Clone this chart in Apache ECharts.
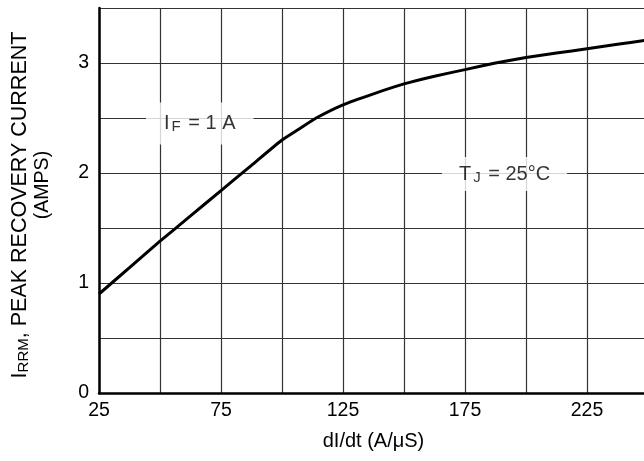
<!DOCTYPE html>
<html>
<head>
<meta charset="utf-8">
<script src="https://cdn.jsdelivr.net/npm/echarts@6/dist/echarts.min.js"></script>
<style>
  html, body { margin: 0; padding: 0; background: #fff; }
  #chart { width: 644px; height: 461px; }
</style>
</head>
<body>
<div id="chart"></div>
<script>
// dI/dt (A/uS) 与 IRRM (A) 曲线数据
const dIdt = [25, 37.5, 50, 62.5, 75, 87.5, 100, 107, 114, 125, 137.5, 150, 162.5, 175, 187.5, 200, 212.5, 225, 237.5, 250];
const irrm = [0.90, 1.14, 1.38, 1.61, 1.84, 2.07, 2.30, 2.40, 2.50, 2.62, 2.72, 2.81, 2.88, 2.94, 3.00, 3.05, 3.09, 3.13, 3.17, 3.21];

// 坐标轴刻度标签
const xTickLabels = [25, 75, 125, 175, 225];
const yTickLabels = [0, 1, 2, 3];

// 图中注释（数据坐标）
const noteX = [66.3, 191.2];
const noteY = [2.45, 1.99];
const noteText = ['I{s|F} = 1 A', 'T{s|J} = 25°C'];

const FONT = '"Liberation Sans", Arial, Helvetica, sans-serif';

const chart = echarts.init(document.getElementById('chart'));

const gridLine = { show: true, lineStyle: { color: '#333', width: 1.2, type: 'solid' } };
const axisLineStyle = { show: true, onZero: false, lineStyle: { color: '#000', width: 2.5 } };

const notePad = [[10, 18], [6, 17]];

chart.setOption({
  animation: false,
  backgroundColor: '#fff',
  grid: { left: 99, top: 8, width: 549, height: 385, outerBoundsMode: 'none' },
  xAxis: {
    type: 'value',
    min: 25,
    max: 250,
    interval: 25,
    axisLine: axisLineStyle,
    axisTick: { show: false },
    splitLine: gridLine,
    axisLabel: {
      color: '#000',
      fontFamily: FONT,
      fontSize: 19.5,
      margin: 8,
      formatter: v => (xTickLabels.includes(v) ? String(v) : '')
    },
    name: 'dI/dt (A/μS)',
    nameLocation: 'middle',
    nameGap: 38,
    nameTextStyle: { color: '#000', fontFamily: FONT, fontSize: 20 }
  },
  yAxis: {
    type: 'value',
    min: 0,
    max: 3.5,
    interval: 0.5,
    axisLine: axisLineStyle,
    axisTick: { show: false },
    splitLine: gridLine,
    axisLabel: {
      color: '#000',
      fontFamily: FONT,
      fontSize: 19.5,
      margin: 10,
      formatter: v => (yTickLabels.includes(v) ? String(v) : '')
    }
  },
  graphic: [
    {
      type: 'text',
      x: 20,
      y: 205,
      rotation: Math.PI / 2,
      style: {
        text: 'I{s|RRM}, PEAK RECOVERY CURRENT',
        fill: '#000',
        fontFamily: FONT,
        fontSize: 21.5,
        align: 'center',
        verticalAlign: 'middle',
        rich: {
          s: { fontFamily: FONT, fontSize: 15, lineHeight: 14, verticalAlign: 'bottom', fill: '#000' }
        }
      }
    },
    {
      type: 'text',
      x: 43,
      y: 185,
      rotation: Math.PI / 2,
      style: {
        text: '(AMPS)',
        fill: '#000',
        fontFamily: FONT,
        fontSize: 19.5,
        align: 'center',
        verticalAlign: 'middle'
      }
    }
  ],
  series: [
    {
      type: 'line',
      data: dIdt.map((x, i) => [x, irrm[i]]),
      symbol: 'none',
      smooth: 0.15,
      lineStyle: { color: '#000', width: 3 },
      z: 5
    },
    {
      type: 'scatter',
      silent: true,
      symbolSize: 0,
      z: 4,
      data: noteX.map((x, i) => ({
        value: [x, noteY[i]],
        label: { padding: notePad[i] }
      })),
      label: {
        show: true,
        position: 'inside',
        formatter: p => noteText[p.dataIndex],
        backgroundColor: '#fff',
        color: '#000',
        fontFamily: FONT,
        fontSize: 20,
        lineHeight: 22,
        rich: {
          s: { fontFamily: FONT, fontSize: 15, lineHeight: 14, verticalAlign: 'bottom', color: '#000', padding: [0, 2, 0, 2] }
        }
      }
    }
  ]
});

window.addEventListener('resize', () => chart.resize());
</script>
</body>
</html>
